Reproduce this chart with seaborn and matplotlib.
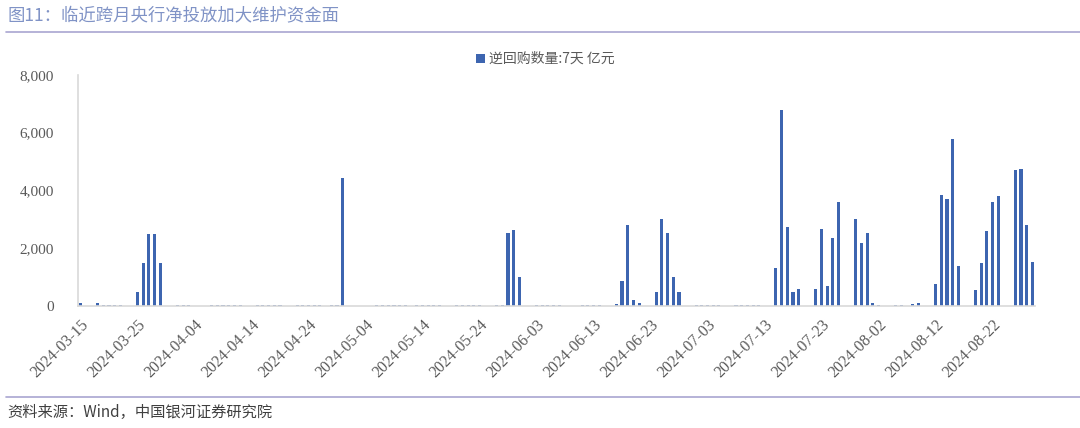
import numpy as np
import pandas as pd
import matplotlib
matplotlib.use('Agg')
import matplotlib.pyplot as plt
import seaborn as sns
from matplotlib.patches import Patch
from matplotlib.lines import Line2D

##########################################################
# dati: operazioni di reverse repo a 7 giorni (亿元), giorni di calendario
start_date = '2024-03-15'
end_date = '2024-08-29'

trade_dates = [
    '2024-03-15', '2024-03-18', '2024-03-19', '2024-03-20', '2024-03-21', '2024-03-22',
    '2024-03-25', '2024-03-26', '2024-03-27', '2024-03-28', '2024-03-29',
    '2024-04-01', '2024-04-02', '2024-04-03', '2024-04-07', '2024-04-08', '2024-04-09',
    '2024-04-10', '2024-04-11', '2024-04-12', '2024-04-15', '2024-04-16', '2024-04-17',
    '2024-04-18', '2024-04-19', '2024-04-22', '2024-04-23', '2024-04-24', '2024-04-25',
    '2024-04-26', '2024-04-28', '2024-04-29', '2024-04-30',
    '2024-05-06', '2024-05-07', '2024-05-08', '2024-05-09', '2024-05-10', '2024-05-11',
    '2024-05-13', '2024-05-14', '2024-05-15', '2024-05-16', '2024-05-17',
    '2024-05-20', '2024-05-21', '2024-05-22', '2024-05-23', '2024-05-24',
    '2024-05-27', '2024-05-28', '2024-05-29', '2024-05-30', '2024-05-31',
    '2024-06-03', '2024-06-04', '2024-06-05', '2024-06-06', '2024-06-07',
    '2024-06-11', '2024-06-12', '2024-06-13', '2024-06-14',
    '2024-06-17', '2024-06-18', '2024-06-19', '2024-06-20', '2024-06-21',
    '2024-06-24', '2024-06-25', '2024-06-26', '2024-06-27', '2024-06-28',
    '2024-07-01', '2024-07-02', '2024-07-03', '2024-07-04', '2024-07-05',
    '2024-07-08', '2024-07-09', '2024-07-10', '2024-07-11', '2024-07-12',
    '2024-07-15', '2024-07-16', '2024-07-17', '2024-07-18', '2024-07-19',
    '2024-07-22', '2024-07-23', '2024-07-24', '2024-07-25', '2024-07-26',
    '2024-07-29', '2024-07-30', '2024-07-31', '2024-08-01', '2024-08-02',
    '2024-08-05', '2024-08-06', '2024-08-08', '2024-08-09',
    '2024-08-12', '2024-08-13', '2024-08-14', '2024-08-15', '2024-08-16',
    '2024-08-19', '2024-08-20', '2024-08-21', '2024-08-22', '2024-08-23',
    '2024-08-26', '2024-08-27', '2024-08-28', '2024-08-29',
]

repo_values = [
    120, 100, 50, 20, 20, 20,
    500, 1500, 2500, 2500, 1500,
    20, 20, 20, 20, 20, 20,
    20, 20, 20, 20, 20, 20,
    20, 20, 20, 20, 20, 20,
    20, 20, 20, 4420,
    20, 20, 20, 20, 20, 20,
    20, 20, 20, 20, 20,
    20, 20, 20, 20, 20,
    20, 20, 2520, 2620, 1000,
    20, 20, 20, 20, 20,
    20, 20, 20, 20,
    60, 870, 2800, 200, 100,
    500, 3010, 2520, 1000, 500,
    20, 20, 20, 20, 20,
    20, 20, 20, 20, 20,
    1300, 6780, 2720, 500, 600,
    580, 2680, 680, 2360, 3590,
    3020, 2180, 2530, 90, 20,
    20, 20, 60, 120,
    750, 3860, 3700, 5790, 1380,
    540, 1500, 2590, 3610, 3810,
    4720, 4750, 2790, 1520,
]

series_label = '逆回购数量:7天 亿元'
title_text = '图11：临近跨月央行净投放加大维护资金面'
source_text = '资料来源：Wind，中国银河证券研究院'

##########################################################
# asse delle date (tutti i giorni di calendario)
all_days = pd.date_range(start_date, end_date, freq='D').strftime('%Y-%m-%d')
df = pd.DataFrame({'date': all_days})
df = df.merge(pd.DataFrame({'date': trade_dates, 'value': repo_values}), on='date', how='left')
df['value'] = df['value'].fillna(0)

sns.set_style('white')
plt.rcParams['font.family'] = ['Liberation Serif', 'Noto Sans CJK SC', 'DejaVu Sans']

bar_color = '#3D65B0'
axis_color = '#D9D9D9'
text_color = '#595959'

fig = plt.figure(figsize=(10.8, 4.28), dpi=100)
ax = fig.add_axes([0.0719, 0.285, 0.8867, 0.540])

sns.barplot(data=df, x='date', y='value', order=list(all_days), color=bar_color,
            width=0.55, saturation=1, linewidth=0, ax=ax)

ax.set_xlim(-0.5, len(all_days) - 0.5)
ax.set_ylim(0, 8000)
ax.set_yticks(np.arange(0, 8001, 2000))
ax.set_yticklabels([f'{int(v):,}' for v in np.arange(0, 8001, 2000)], fontsize=11, color=text_color)

tick_pos = np.arange(0, len(all_days), 10)
ax.set_xticks(tick_pos)
ax.set_xticklabels([all_days[i] for i in tick_pos], rotation=45, ha='right',
                   rotation_mode='anchor', fontsize=11.5, color=text_color)
ax.set_xticks(np.arange(-0.5, len(all_days), 10)[1:], minor=True)
ax.tick_params(axis='x', which='major', length=0, pad=8)
ax.tick_params(axis='x', which='minor', direction='in', length=5, color=axis_color, width=1)
ax.tick_params(axis='y', direction='in', length=3, color=axis_color, pad=17)
ax.set_xlabel('')
ax.set_ylabel('')

for side in ['top', 'right']:
    ax.spines[side].set_visible(False)
for side in ['left', 'bottom']:
    ax.spines[side].set_color(axis_color)
    ax.spines[side].set_linewidth(1.2)

handle = Patch(facecolor=bar_color, edgecolor='none')
ax.legend(handles=[handle], labels=[series_label], loc='center',
          bbox_to_anchor=(0.505, 0.862), bbox_transform=fig.transFigure,
          frameon=False, handlelength=0.6, handleheight=0.6, handletextpad=0.3,
          prop={'family': ['Noto Sans CJK SC'], 'size': 10}, labelcolor=text_color)

# titolo e fonte
fig.text(0.007, 0.965, title_text, fontsize=12.5, color='#8093C6',
         family=['Noto Sans CJK SC'], va='center', ha='left')
fig.add_artist(Line2D([0.006, 1.0], [0.925, 0.925], transform=fig.transFigure,
                      color='#A9A5D1', linewidth=1.2))
fig.add_artist(Line2D([0.006, 1.0], [0.072, 0.072], transform=fig.transFigure,
                      color='#A9A5D1', linewidth=1.2))
fig.text(0.007, 0.037, source_text, fontsize=11, color='#404040', style='italic',
         family=['Noto Sans CJK SC'], va='center', ha='left')

fig.savefig('out.png', dpi=100)
